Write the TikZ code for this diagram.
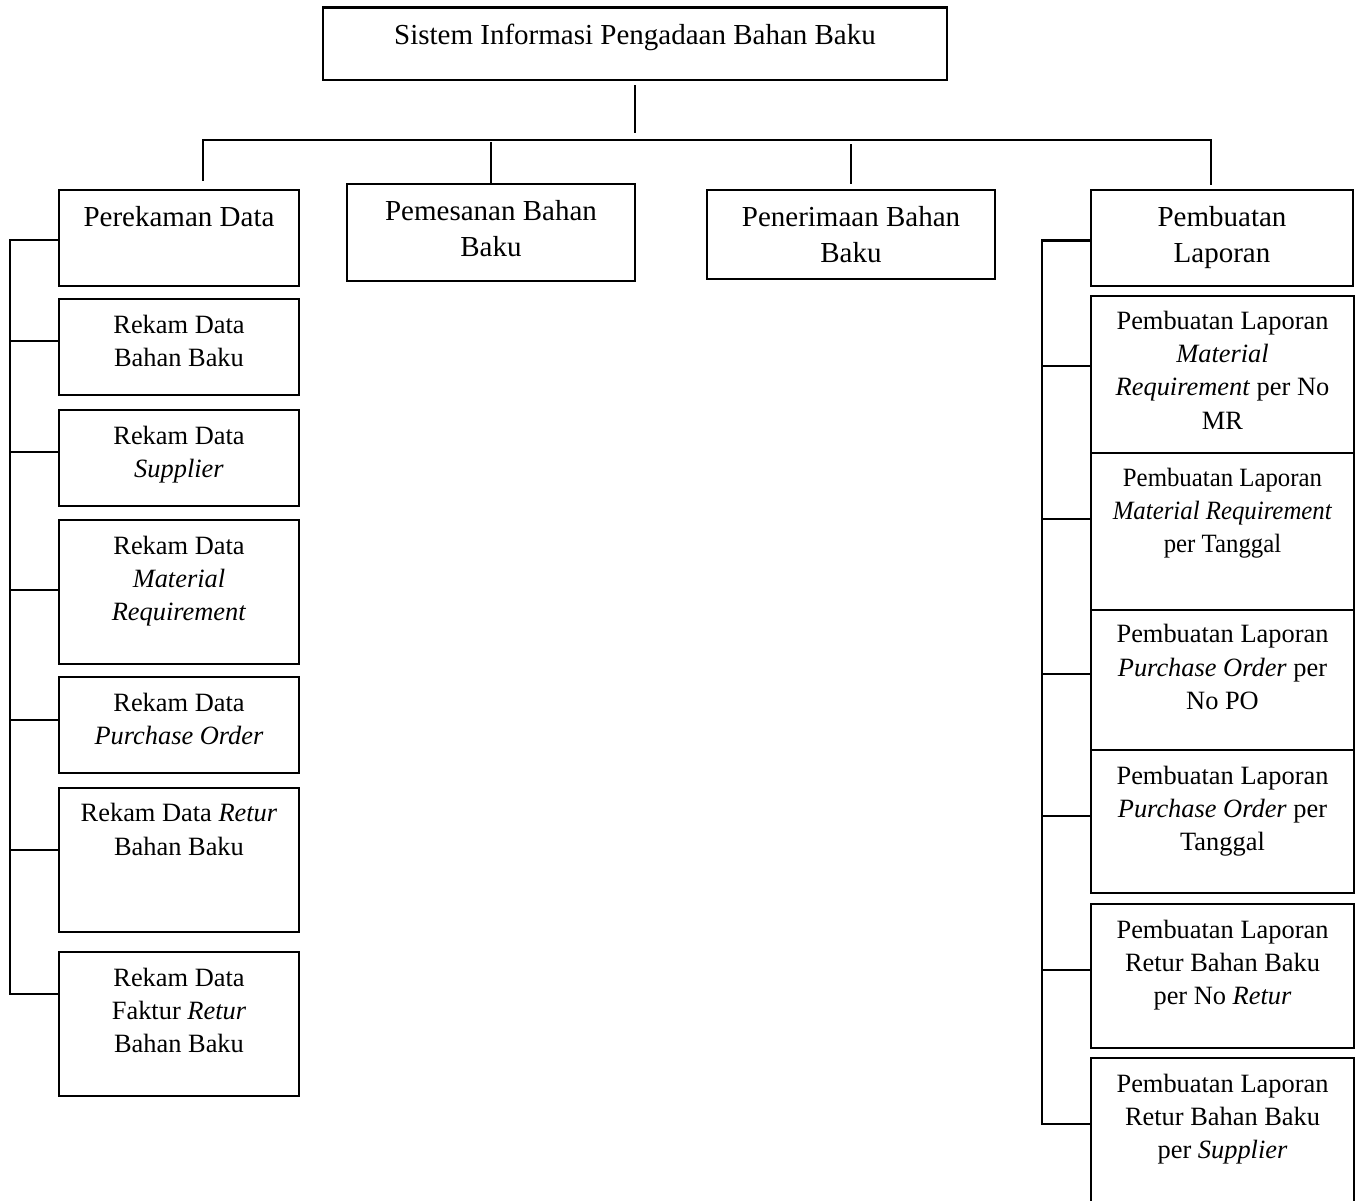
\documentclass[tikz,border=0pt]{standalone}
\usepackage{fontspec}
\setmainfont{Liberation Serif}
\newfontfamily\condfont{Liberation Serif}[FakeStretch=0.94]
\usetikzlibrary{calc}
\tikzset{
  boxst/.style={draw, line width=2.2pt, inner sep=0pt, rectangle},
  toptxt/.style={inner sep=0pt, font=\fontsize{29}{35.5}\selectfont},
  subtxt/.style={inner sep=0pt, font=\fontsize{26.4}{33.2}\selectfont},
  condtxt/.style={inner sep=0pt, font=\condfont\fontsize{26.4}{33.2}\selectfont},
  conn/.style={line width=2.2pt}
}
\newcommand{\diabox}[8]{%
  \pgfmathsetmacro\dbw{#4-#2}\pgfmathsetmacro\dbh{#5-#3}%
  \node[boxst, minimum width=\dbw pt, minimum height=\dbh pt] (#1) at ({(#2+#4)/2},{(#3+#5)/2}) {};
  \node[#7, anchor=base] (#1-t) at ($(#1.north)+(0,#6)$) {\begin{tabular}[t]{@{}c@{}}#8\end{tabular}};
}
\begin{document}
\begin{tikzpicture}[x=1pt,y=-1pt]
\useasboundingbox (0,0) rectangle (1362,1200);
\clip (0,0) rectangle (1362,1200);
% top level
\diabox{top}{323}{7.5}{947}{80}{38.5}{toptxt}{Sistem Informasi Pengadaan Bahan Baku}
\diabox{perek}{59}{190}{299}{286}{38}{toptxt}{Perekaman Data}
\diabox{pemes}{347}{184}{635}{281}{38}{toptxt}{Pemesanan Bahan\\Baku}
\diabox{pener}{707}{190}{995}{278.7}{38}{toptxt}{Penerimaan Bahan\\Baku}
\diabox{pemb}{1091}{190}{1353}{286}{38}{toptxt}{Pembuatan\\Laporan}
% left children
\diabox{lc1}{59}{299}{299}{395}{35.5}{subtxt}{Rekam Data\\Bahan Baku}
\diabox{lc2}{59}{410}{299}{506}{35.5}{subtxt}{Rekam Data\\\textit{Supplier}}
\diabox{lc3}{59}{520}{299}{664}{35.5}{subtxt}{Rekam Data\\\textit{Material}\\\textit{Requirement}}
\diabox{lc4}{59}{677}{299}{773}{35.5}{subtxt}{Rekam Data\\\textit{Purchase Order}}
\diabox{lc5}{59}{788}{299}{932}{35}{subtxt}{Rekam Data \textit{Retur}\\Bahan Baku}
\diabox{lc6}{59}{952}{299}{1096}{35.5}{subtxt}{Rekam Data\\Faktur \textit{Retur}\\Bahan Baku}
% right children
\diabox{rc1}{1091}{296}{1354}{453}{34.5}{subtxt}{Pembuatan Laporan\\\textit{Material}\\\textit{Requirement} per No\\MR}
\diabox{rc2}{1091}{453}{1354}{610}{34.5}{condtxt}{Pembuatan Laporan\\\textit{Material Requirement}\\per Tanggal}
\diabox{rc3}{1091}{610}{1354}{750}{34}{subtxt}{Pembuatan Laporan\\\textit{Purchase Order} per\\No PO}
\diabox{rc4}{1091}{750}{1354}{893}{35.5}{subtxt}{Pembuatan Laporan\\\textit{Purchase Order} per\\Tanggal}
\diabox{rc5}{1091}{904}{1354}{1048}{35.5}{subtxt}{Pembuatan Laporan\\Retur Bahan Baku\\per No \textit{Retur}}
\diabox{rc6}{1091}{1058}{1354}{1215}{35.5}{subtxt}{Pembuatan Laporan\\Retur Bahan Baku\\per \textit{Supplier}}
% bus
\coordinate (busL) at (203,140);
\coordinate (busR) at (1211,140);
\coordinate (bus2) at (491,140);
\coordinate (bus3) at (851,140);
\draw[conn] ([yshift=-4pt]top.south) -- ([yshift=7pt]top.south |- busL);
\draw[conn] ([yshift=8pt]busL |- perek.north) -- (busL) -- (busR) -- ([yshift=4pt]busR |- pemb.north);
\draw[conn] ([yshift=-2pt]bus2) -- (pemes.north);
\draw[conn] ([yshift=-4pt]bus3) -- ([yshift=5pt]pener.north);
% left tree
\draw[conn] ($(perek.north west)+(0,51)$) -- ++(-48,0) |- ($(lc6.north west)+(0,43)$);
\draw[conn] ($(lc1.north west)+(0,43)$) -- ++(-48,0);
\draw[conn] ($(lc2.north west)+(0,43)$) -- ++(-48,0);
\draw[conn] ($(lc3.north west)+(0,70.7)$) -- ++(-48,0);
\draw[conn] ($(lc4.north west)+(0,43.7)$) -- ++(-48,0);
\draw[conn] ($(lc5.north west)+(0,62.7)$) -- ++(-48,0);
% right tree
\draw[conn] ($(pemb.north west)+(0,51.5)$) -- ++(-48,0) |- ($(rc6.north west)+(0,67)$);
\draw[conn] ($(rc1.north west)+(0,70.7)$) -- ++(-48,0);
\draw[conn] ($(rc2.north west)+(0,67)$) -- ++(-48,0);
\draw[conn] ($(rc3.north west)+(0,65)$) -- ++(-48,0);
\draw[conn] ($(rc4.north west)+(0,66.7)$) -- ++(-48,0);
\draw[conn] ($(rc5.north west)+(0,67)$) -- ++(-48,0);
\end{tikzpicture}
\end{document}
